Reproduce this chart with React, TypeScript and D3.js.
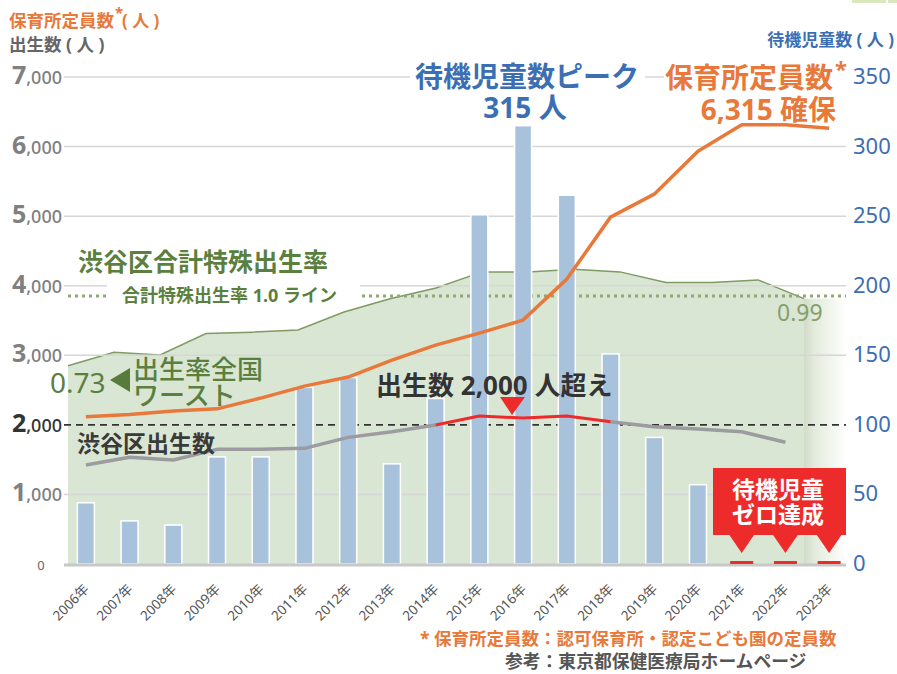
import React from 'react';
import * as d3 from 'd3';

const years = ['2006年','2007年','2008年','2009年','2010年','2011年','2012年','2013年','2014年','2015年','2016年','2017年','2018年','2019年','2020年','2021年','2022年','2023年'];
// 待機児童数 (right axis)
const waiting = [44, 31, 28, 77, 77, 127, 134, 72, 119, 251, 315, 265, 151, 91, 57, 0, 0, 0];
// 保育所定員数 (left axis)
const capacity = [2116, 2150, 2200, 2230, 2385, 2557, 2687, 2930, 3146, 3319, 3506, 4095, 4986, 5316, 5934, 6315, 6315, 6264];
// 渋谷区出生数 (left axis)
const births = [1422, 1533, 1494, 1648, 1648, 1662, 1820, 1901, 1997, 2126, 2098, 2126, 2045, 1973, 1940, 1901, 1749, null];
// 渋谷区合計特殊出生率 2006-2022
const fertility = [0.74, 0.79, 0.78, 0.86, 0.865, 0.873, 0.94, 0.99, 1.03, 1.09, 1.09, 1.10, 1.09, 1.05, 1.05, 1.06, 0.99];
const leftTicks = [0, 1000, 2000, 3000, 4000, 5000, 6000, 7000];
const rightTicks = [0, 50, 100, 150, 200, 250, 300, 350];

const W = 897, H = 674;
const plotL = 64, plotR = 846, baseY = 564, topY = 77;
const FONT = "'Noto Sans', 'Noto Sans CJK JP', sans-serif";
const ORANGE = '#e8793a';
const BLUE = '#3c6eb4';
const GREEN = '#5b7f3e';
const RED = '#ee2b2b';

export default function App() {
  const x = d3.scalePoint<string>().domain(years).range([64, 851]).padding(0.5);
  const yL = d3.scaleLinear().domain([0, 7000]).range([baseY, topY]);
  const yR = d3.scaleLinear().domain([0, 350]).range([baseY, topY]);
  const yF = d3.scaleLinear().domain([0, 1]).range([baseY, 296]);
  const xF = d3.scaleLinear().domain([0, fertility.length - 1]).range([68, 804]);

  const area = d3.area<number>().x((_, i) => xF(i)).y0(baseY).y1(d => yF(d));
  const areaTop = d3.line<number>().x((_, i) => xF(i)).y(d => yF(d));

  const capLine = d3.line<number>().x((_, i) => x(years[i])!).y(d => yL(d));
  const capPath = capLine(capacity)!;

  type P = { i: number; v: number };
  const bPts: P[] = births.map((v, i) => ({ i, v: v as number })).filter(p => p.v != null);
  const bLine = d3.line<P>().x(p => x(years[p.i])!).y(p => yL(p.v));
  const grayA = bLine(bPts.filter(p => p.i <= 8))!;
  const redSeg = bLine(bPts.filter(p => p.i >= 8 && p.i <= 12))!;
  const grayB = bLine(bPts.filter(p => p.i >= 12))!;

  const barW = 17;
  const zeroYears = years.filter((_, i) => waiting[i] === 0);

  return (
    <svg width={W} height={H} style={{ position: 'absolute', left: 0, top: 0, background: '#fff' }} fontFamily={FONT}>
      <defs>
        <linearGradient id="fade" x1="0" x2="1" y1="0" y2="0">
          <stop offset="0" stopColor="#d2dbc8" />
          <stop offset="0.25" stopColor="#e3ebdc" />
          <stop offset="1" stopColor="#ffffff" />
        </linearGradient>
      </defs>
      <rect x={852} y={0} width={34} height={3} fill="#d9e9bd" />
      <rect x={888} y={0} width={9} height={3} fill="#d9e9bd" />

      {/* fertility area */}
      <path d={area(fertility)!} fill="#d9e6d3" />
      <rect x={xF(fertility.length - 1)} y={yF(fertility[fertility.length - 1])} width={plotR - xF(fertility.length - 1)} height={baseY - yF(fertility[fertility.length - 1])} fill="url(#fade)" />
      <path d={areaTop(fertility)!} fill="none" stroke="#7f9a63" strokeWidth={1.5} />

      {/* gridlines */}
      {leftTicks.filter(t => t !== 0 && t !== 2000).map(t => (
        <line key={t} x1={plotL} x2={plotR} y1={yL(t)} y2={yL(t)} stroke="#d6d6d6" strokeWidth={1.5} />
      ))}
      <line x1={plotL} x2={plotR} y1={yL(2000)} y2={yL(2000)} stroke="#333" strokeWidth={1.6} strokeDasharray="7,5" />
      <line x1={68} x2={plotR} y1={yF(1)} y2={yF(1)} stroke="#8fa872" strokeWidth={3} strokeDasharray="3,4" />

      {/* bars */}
      {years.map((yr, i) => waiting[i] > 0 ? (
        <rect key={yr} x={x(yr)! - barW / 2} y={yR(waiting[i])} width={barW} height={baseY - yR(waiting[i])} fill="#a9c2dc" stroke="#fff" strokeWidth={1.5} />
      ) : null)}

      {/* baseline */}
      <line x1={plotL} x2={plotR} y1={baseY + 1} y2={baseY + 1} stroke="#c8c8c8" strokeWidth={3} />
      {zeroYears.map(yr => (
        <rect key={yr} x={x(yr)! - 11.5} y={baseY - 3} width={23} height={3} fill={RED} />
      ))}

      {/* lines */}
      <path d={capPath} fill="none" stroke={ORANGE} strokeWidth={3.5} strokeLinejoin="round" />
      <path d={grayA} fill="none" stroke="#9b9ba0" strokeWidth={3.5} strokeLinejoin="round" />
      <path d={grayB} fill="none" stroke="#9b9ba0" strokeWidth={3.5} strokeLinejoin="round" />
      <path d={redSeg} fill="none" stroke={RED} strokeWidth={3} strokeLinejoin="round" />

      {/* left axis labels */}
      {leftTicks.map(t => t === 0 ? (
        <text key={t} x={41} y={yL(t) + 6} fontSize={13} fill="#666" textAnchor="middle">0</text>
      ) : (
        <text key={t} x={62} y={yL(t) + 7} textAnchor="end" fill={t === 2000 ? '#333' : '#808080'} fontWeight={700}>
          <tspan fontSize={25}>{String(t / 1000)}</tspan>
          <tspan fontSize={18} fontWeight={500}>,000</tspan>
        </text>
      ))}
      {/* right axis labels */}
      {rightTicks.map(t => (
        <text key={t} x={853} y={yR(t) + 7} fontSize={22} fill={BLUE}>{t}</text>
      ))}

      {/* x labels */}
      {years.map(yr => (
        <text key={yr} transform={`translate(${x(yr)! + 4},${590}) rotate(-45)`} textAnchor="end" fontSize={13.5} fill="#555">{yr}</text>
      ))}

      {/* axis titles */}
      <text x={9} y={27} fontSize={17.5} fontWeight={700} fill={ORANGE}>保育所定員数</text>
      <text x={115} y={18} fontSize={15} fontWeight={700} fill={ORANGE}>*</text>
      <text x={122} y={27} fontSize={17} fontWeight={700} fill={ORANGE}>( 人 )</text>
      <text x={9} y={51} fontSize={17.5} fontWeight={700} fill="#666">出生数 ( 人 )</text>
      <text x={894} y={46} fontSize={17} fontWeight={700} fill={BLUE} textAnchor="end">待機児童数 ( 人 )</text>

      {/* peak annotation */}
      <rect x={410} y={62} width={235} height={32} fill="#fff" />
      <text x={527} y={87} fontSize={28} fontWeight={700} fill={BLUE} textAnchor="middle">待機児童数ピーク</text>
      <text x={525} y={118} fontSize={28} fontWeight={700} fill={BLUE} textAnchor="middle">315 人</text>

      <rect x={664} y={60} width={182} height={34} fill="#fff" />
      <text x={833} y={88} fontSize={28} fontWeight={700} fill={ORANGE} textAnchor="end">保育所定員数</text>
      <text x={835} y={77} fontSize={22} fontWeight={700} fill={ORANGE}>*</text>
      <text x={836} y={120} fontSize={28} fontWeight={700} fill={ORANGE} textAnchor="end">6,315 確保</text>

      {/* fertility annotations */}
      <text x={78} y={271} fontSize={25} fontWeight={700} fill={GREEN}>渋谷区合計特殊出生率</text>
      <rect x={107} y={277} width={253} height={29} fill="#fff" />
      <text x={122} y={302} fontSize={18} fontWeight={700} fill={GREEN}>合計特殊出生率 1.0 ライン</text>
      <text x={50} y={393} fontSize={28} fill={GREEN}>0.73</text>
      <polygon points="110,380 130,368 130,392" fill="#587a3a" />
      <text x={133} y={379} fontSize={26} fontWeight={500} fill={GREEN}>出生率全国</text>
      <text x={133} y={405} fontSize={26} fontWeight={500} fill={GREEN}>ワースト</text>
      <text x={777} y={321} fontSize={23} fill="#86a06a">0.99</text>

      {/* births annotations */}
      <text x={376} y={395} fontSize={26} fontWeight={700} fill="#333">出生数 2,000 人超え</text>
      <polygon points="500,397 525,397 512,415" fill={RED} />
      <text x={77} y={452} fontSize={23} fontWeight={700} fill="#3a3a3a">渋谷区出生数</text>

      {/* zero callout */}
      <rect x={713} y={468} width={133} height={67} fill={RED} />
      {zeroYears.map(yr => (
        <polygon key={yr} points={`${x(yr)! - 13},534 ${x(yr)! + 13},534 ${x(yr)!},553`} fill={RED} />
      ))}
      <text x={778} y={498} fontSize={23} fontWeight={700} fill="#fff" textAnchor="middle">待機児童</text>
      <text x={778} y={523} fontSize={23} fontWeight={700} fill="#fff" textAnchor="middle">ゼロ達成</text>

      {/* notes */}
      <text x={420} y={645} fontSize={17.5} fontWeight={700} fill={ORANGE}>* 保育所定員数：認可保育所・認定こども園の定員数</text>
      <text x={505} y={668} fontSize={17.8} fontWeight={700} fill="#555">参考：東京都保健医療局ホームページ</text>
    </svg>
  );
}
